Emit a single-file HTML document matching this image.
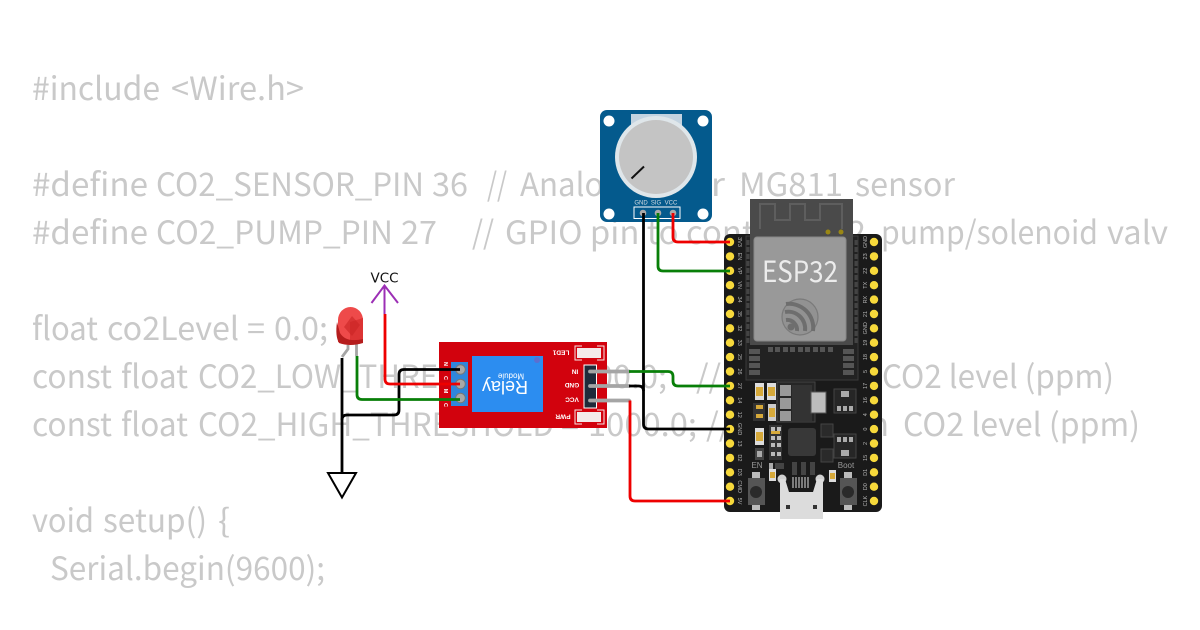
<!DOCTYPE html>
<html><head><meta charset="utf-8"><style>
html,body{margin:0;padding:0;background:#fff;width:1200px;height:630px;overflow:hidden}
svg{display:block}
.c{font-family:"Noto Sans CJK JP","Liberation Sans",sans-serif;font-size:32px;font-weight:400;fill:#c9c9c9}
.s{font-family:"Liberation Sans",sans-serif}
.p{font-family:"Liberation Sans",sans-serif;font-size:6px;fill:#d5dde3;text-anchor:middle}
.w{fill:none;stroke-width:2.8;stroke-linejoin:round}
</style></head><body>
<svg width="1200" height="630" viewBox="0 0 1200 630" xmlns="http://www.w3.org/2000/svg">
<g class="c">
<text x="32" y="100" textLength="128" lengthAdjust="spacingAndGlyphs">#include</text>
<text x="171" y="100" textLength="133" lengthAdjust="spacingAndGlyphs">&lt;Wire.h&gt;</text>

<text x="32" y="196" textLength="116" lengthAdjust="spacingAndGlyphs">#define</text>
<text x="156" y="196" textLength="268" lengthAdjust="spacingAndGlyphs">CO2_SENSOR_PIN</text>
<text x="432" y="196" textLength="36" lengthAdjust="spacingAndGlyphs">36</text>
<text x="487" y="196" textLength="20" lengthAdjust="spacingAndGlyphs">//</text>
<text x="520" y="196" textLength="101" lengthAdjust="spacingAndGlyphs">Analog</text>
<text x="677" y="196" textLength="48" lengthAdjust="spacingAndGlyphs">for</text>
<text x="739" y="196" textLength="104" lengthAdjust="spacingAndGlyphs">MG811</text>
<text x="855" y="196" textLength="100" lengthAdjust="spacingAndGlyphs">sensor</text>

<text x="32" y="244" textLength="116" lengthAdjust="spacingAndGlyphs">#define</text>
<text x="156" y="244" textLength="237" lengthAdjust="spacingAndGlyphs">CO2_PUMP_PIN</text>
<text x="401" y="244" textLength="36" lengthAdjust="spacingAndGlyphs">27</text>
<text x="472" y="244" textLength="22" lengthAdjust="spacingAndGlyphs">//</text>
<text x="505" y="244" textLength="361" lengthAdjust="spacingAndGlyphs">GPIO pin to control CO2</text>
<text x="881" y="244" textLength="217" lengthAdjust="spacingAndGlyphs">pump/solenoid</text>
<text x="1107" y="244" textLength="61" lengthAdjust="spacingAndGlyphs">valv</text>

<text x="32" y="340" textLength="66" lengthAdjust="spacingAndGlyphs">float</text>
<text x="107" y="340" textLength="132" lengthAdjust="spacingAndGlyphs">co2Level</text>
<text x="247" y="340" textLength="18" lengthAdjust="spacingAndGlyphs">=</text>
<text x="274" y="340" textLength="54" lengthAdjust="spacingAndGlyphs">0.0;</text>

<text x="32" y="388" textLength="80" lengthAdjust="spacingAndGlyphs">const</text>
<text x="121" y="388" textLength="67" lengthAdjust="spacingAndGlyphs">float</text>
<text x="198" y="388" textLength="343" lengthAdjust="spacingAndGlyphs">CO2_LOW_THRESHOLD</text>
<text x="549" y="388" textLength="18" lengthAdjust="spacingAndGlyphs">=</text>
<text x="577" y="388" textLength="90" lengthAdjust="spacingAndGlyphs">800.0;</text>
<text x="696" y="388" textLength="174" lengthAdjust="spacingAndGlyphs">// Minimum</text>
<text x="882" y="388" textLength="232" lengthAdjust="spacingAndGlyphs">CO2 level (ppm)</text>

<text x="32" y="436" textLength="80" lengthAdjust="spacingAndGlyphs">const</text>
<text x="121" y="436" textLength="67" lengthAdjust="spacingAndGlyphs">float</text>
<text x="198" y="436" textLength="356" lengthAdjust="spacingAndGlyphs">CO2_HIGH_THRESHOLD</text>
<text x="561" y="436" textLength="18" lengthAdjust="spacingAndGlyphs">=</text>
<text x="588" y="436" textLength="109" lengthAdjust="spacingAndGlyphs">1000.0;</text>
<text x="706" y="436" textLength="183" lengthAdjust="spacingAndGlyphs">// Maximum</text>
<text x="903" y="436" textLength="237" lengthAdjust="spacingAndGlyphs">CO2 level (ppm)</text>

<text x="32" y="532" textLength="62" lengthAdjust="spacingAndGlyphs">void</text>
<text x="103" y="532" textLength="104" lengthAdjust="spacingAndGlyphs">setup()</text>
<text x="218" y="532" textLength="12" lengthAdjust="spacingAndGlyphs">{</text>
<text x="50" y="580" textLength="275" lengthAdjust="spacingAndGlyphs">Serial.begin(9600);</text>
</g>

<!-- ESP32 board -->
<rect x="724" y="234" width="158" height="278" rx="6" fill="#1a1a1a"/>
<rect x="746" y="236" width="112" height="144" fill="#222" stroke="#3a3a3a"/>
<path d="M748 240V345M856 240V345" stroke="#444" stroke-width="3" stroke-dasharray="5 2" fill="none"/>
<rect x="750" y="199" width="103" height="146" fill="#4a4a4a"/>
<path d="M760 229V204H775V220H790V204H805V220H820V204H842V229" fill="none" stroke="#5e5e5e" stroke-width="2"/>
<circle cx="828" cy="232" r="2.5" fill="#9a8714"/><circle cx="841" cy="232" r="2.5" fill="#9a8714"/>
<rect x="754" y="237" width="92" height="104" rx="3" fill="#999" stroke="#888"/>
<text x="762" y="282" font-family="'Noto Sans CJK JP','Liberation Sans',sans-serif" font-size="29" fill="#ececec" textLength="76" lengthAdjust="spacingAndGlyphs">ESP32</text>
<circle cx="800" cy="317" r="18" fill="#929292" stroke="#7a7a7a" stroke-width="1.2"/>
<g fill="none" stroke="#6e6e6e" stroke-width="4"><path d="M786 304A24 24 0 0 1 813 331"/><path d="M785 312A17 17 0 0 1 805 331"/><path d="M786 320A10 10 0 0 1 797 331"/></g><circle cx="791" cy="327" r="3.5" fill="#6e6e6e"/>
<g fill="#555"><rect x="768" y="347" width="5" height="5"/><rect x="775" y="347" width="5" height="5"/><rect x="783" y="347" width="5" height="5"/><rect x="790" y="347" width="5" height="5"/><rect x="798" y="347" width="5" height="5"/><rect x="805" y="347" width="5" height="5"/><rect x="813" y="347" width="5" height="5"/><rect x="820" y="347" width="5" height="5"/><rect x="828" y="347" width="5" height="5"/><rect x="749" y="349" width="11" height="5"/><rect x="749" y="356" width="11" height="5"/><rect x="749" y="363" width="11" height="5"/><rect x="749" y="370" width="11" height="5"/><rect x="843" y="349" width="11" height="5"/><rect x="843" y="356" width="11" height="5"/><rect x="843" y="363" width="11" height="5"/><rect x="843" y="370" width="11" height="5"/></g>
<!-- SMD parts -->
<g>
<rect x="755" y="383" width="9" height="17" fill="#ddd"/><rect x="756" y="387" width="7" height="9" fill="#d6a93a"/>
<rect x="767" y="383" width="9" height="17" fill="#ddd"/><rect x="768" y="387" width="7" height="9" fill="#d6a93a"/>
<rect x="753" y="403" width="12" height="18" fill="#333"/><rect x="756" y="405" width="7" height="4" fill="#d6a93a"/><rect x="756" y="414" width="7" height="4" fill="#d6a93a"/>
<rect x="768" y="404" width="8" height="17" fill="#ccc"/><rect x="769" y="408" width="6" height="9" fill="#d6a93a"/>
<rect x="777" y="382" width="38" height="40" fill="#262626" stroke="#444"/>
<rect x="780" y="385" width="11" height="11" fill="#999"/><rect x="780" y="398" width="11" height="11" fill="#999"/><rect x="780" y="411" width="11" height="10" fill="#999"/>
<rect x="792" y="385" width="20" height="36" fill="#333"/>
<rect x="811" y="392" width="15" height="21" fill="#bdbdbd" stroke="#555"/>
<rect x="834" y="389" width="22" height="24" fill="#262626" stroke="#444"/>
<rect x="841" y="391" width="8" height="6" fill="#aaa"/><rect x="837" y="406" width="4" height="5" fill="#aaa"/><rect x="843" y="406" width="4" height="5" fill="#aaa"/><rect x="849" y="406" width="4" height="5" fill="#aaa"/>
<rect x="834" y="434" width="22" height="24" fill="#262626" stroke="#444"/>
<rect x="841" y="450" width="8" height="6" fill="#aaa"/><rect x="837" y="437" width="4" height="5" fill="#aaa"/><rect x="843" y="437" width="4" height="5" fill="#aaa"/><rect x="849" y="437" width="4" height="5" fill="#aaa"/>
<rect x="821" y="424" width="12" height="13" fill="#2a2a2a" stroke="#444"/><rect x="821" y="449" width="12" height="13" fill="#2a2a2a" stroke="#444"/>
<rect x="755" y="428" width="9" height="17" fill="#ddd"/><rect x="756" y="432" width="7" height="9" fill="#d6a93a"/>
<rect x="755" y="448" width="9" height="12" fill="#444"/><rect x="757" y="451" width="5" height="6" fill="#aaa"/>
<rect x="769" y="425" width="13" height="35" fill="#333"/><g fill="#bbb"><rect x="771" y="427" width="4" height="4"/><rect x="777" y="427" width="4" height="4"/><rect x="771" y="436" width="4" height="4"/><rect x="777" y="436" width="4" height="4"/><rect x="771" y="443" width="4" height="4"/><rect x="777" y="443" width="4" height="4"/><rect x="771" y="452" width="4" height="4"/><rect x="777" y="452" width="4" height="4"/></g>
<rect x="771" y="431" width="9" height="3" fill="#d6a93a"/>
<rect x="788" y="428" width="28" height="28" rx="3" fill="#383838"/>
<rect x="769" y="463" width="4" height="6" fill="#aaa"/><rect x="775" y="463" width="9" height="6" fill="#444"/>
<rect x="792" y="462" width="5" height="13" fill="#444"/><rect x="801" y="462" width="5" height="13" fill="#444"/><rect x="810" y="462" width="5" height="13" fill="#444"/>
<rect x="769" y="469" width="7" height="12" fill="#ddd"/><rect x="770" y="472" width="5" height="6" fill="#d6a93a"/>
<rect x="829" y="470" width="7" height="12" fill="#ddd"/><rect x="830" y="473" width="5" height="6" fill="#d6a93a"/>
</g>
<text x="757" y="468" text-anchor="middle" font-family="Liberation Sans,sans-serif" font-size="8" fill="#9a9a9a">EN</text>
<text x="846" y="468" text-anchor="middle" font-family="Liberation Sans,sans-serif" font-size="8" fill="#9a9a9a">Boot</text>
<!-- buttons -->
<rect x="752" y="472" width="8" height="8" fill="#bbb"/><rect x="752" y="504" width="8" height="6" fill="#bbb"/>
<rect x="748" y="478" width="17" height="27" fill="#555"/><circle cx="756" cy="492" r="6" fill="#2a2a2a"/>
<rect x="844" y="472" width="8" height="8" fill="#bbb"/><rect x="844" y="504" width="8" height="6" fill="#bbb"/>
<rect x="840" y="478" width="17" height="27" fill="#555"/><circle cx="848" cy="492" r="6" fill="#2a2a2a"/>
<!-- USB -->
<circle cx="782" cy="479" r="4.5" fill="#d0d0d0"/><circle cx="820" cy="479" r="4.5" fill="#d0d0d0"/>
<path d="M780 479H785L789 492H813L817 479H823V519H780Z" fill="#dcdcdc"/>
<g stroke="#ddd" stroke-width="1"><path d="M793 477V488M796 477V488M799 477V488M802 477V488M805 477V488M808 477V488"/></g>
<rect x="786" y="505" width="4" height="4" fill="#333"/><rect x="813" y="505" width="4" height="4" fill="#333"/>
<!-- pins -->
<g fill="#f7d93b" id="pins">
<circle cx="730" cy="242" r="4.2"/><circle cx="730" cy="256.4" r="4.2"/><circle cx="730" cy="270.8" r="4.2"/><circle cx="730" cy="285.2" r="4.2"/><circle cx="730" cy="299.6" r="4.2"/><circle cx="730" cy="314" r="4.2"/><circle cx="730" cy="328.3" r="4.2"/><circle cx="730" cy="342.7" r="4.2"/><circle cx="730" cy="357.1" r="4.2"/><circle cx="730" cy="371.5" r="4.2"/><circle cx="730" cy="385.9" r="4.2"/><circle cx="730" cy="400.3" r="4.2"/><circle cx="730" cy="414.7" r="4.2"/><circle cx="730" cy="429.1" r="4.2"/><circle cx="730" cy="443.5" r="4.2"/><circle cx="730" cy="457.9" r="4.2"/><circle cx="730" cy="472.3" r="4.2"/><circle cx="730" cy="486.7" r="4.2"/><circle cx="730" cy="501" r="4.2"/>
<circle cx="874" cy="242" r="4.2"/><circle cx="874" cy="256.4" r="4.2"/><circle cx="874" cy="270.8" r="4.2"/><circle cx="874" cy="285.2" r="4.2"/><circle cx="874" cy="299.6" r="4.2"/><circle cx="874" cy="314" r="4.2"/><circle cx="874" cy="328.3" r="4.2"/><circle cx="874" cy="342.7" r="4.2"/><circle cx="874" cy="357.1" r="4.2"/><circle cx="874" cy="371.5" r="4.2"/><circle cx="874" cy="385.9" r="4.2"/><circle cx="874" cy="400.3" r="4.2"/><circle cx="874" cy="414.7" r="4.2"/><circle cx="874" cy="429.1" r="4.2"/><circle cx="874" cy="443.5" r="4.2"/><circle cx="874" cy="457.9" r="4.2"/><circle cx="874" cy="472.3" r="4.2"/><circle cx="874" cy="486.7" r="4.2"/><circle cx="874" cy="501" r="4.2"/>
</g>
<g class="s" font-size="5.5" fill="#b5b5b5" text-anchor="middle">
<text transform="translate(738,242) rotate(90)">3V3</text><text transform="translate(738,256.4) rotate(90)">EN</text><text transform="translate(738,270.8) rotate(90)">VP</text><text transform="translate(738,285.2) rotate(90)">VN</text><text transform="translate(738,299.6) rotate(90)">34</text><text transform="translate(738,314) rotate(90)">35</text><text transform="translate(738,328.3) rotate(90)">32</text><text transform="translate(738,342.7) rotate(90)">33</text><text transform="translate(738,357.1) rotate(90)">25</text><text transform="translate(738,371.5) rotate(90)">26</text><text transform="translate(738,385.9) rotate(90)">27</text><text transform="translate(738,400.3) rotate(90)">14</text><text transform="translate(738,414.7) rotate(90)">12</text><text transform="translate(738,429.1) rotate(90)">GND</text><text transform="translate(738,443.5) rotate(90)">13</text><text transform="translate(738,457.9) rotate(90)">D2</text><text transform="translate(738,472.3) rotate(90)">D3</text><text transform="translate(738,486.7) rotate(90)">CMD</text><text transform="translate(738,501) rotate(90)">5V</text>
<text transform="translate(867,242) rotate(-90)">GND</text><text transform="translate(867,256.4) rotate(-90)">23</text><text transform="translate(867,270.8) rotate(-90)">22</text><text transform="translate(867,285.2) rotate(-90)">TX</text><text transform="translate(867,299.6) rotate(-90)">RX</text><text transform="translate(867,314) rotate(-90)">21</text><text transform="translate(867,328.3) rotate(-90)">GND</text><text transform="translate(867,342.7) rotate(-90)">19</text><text transform="translate(867,357.1) rotate(-90)">18</text><text transform="translate(867,371.5) rotate(-90)">5</text><text transform="translate(867,385.9) rotate(-90)">17</text><text transform="translate(867,400.3) rotate(-90)">16</text><text transform="translate(867,414.7) rotate(-90)">4</text><text transform="translate(867,429.1) rotate(-90)">0</text><text transform="translate(867,443.5) rotate(-90)">2</text><text transform="translate(867,457.9) rotate(-90)">15</text><text transform="translate(867,472.3) rotate(-90)">D1</text><text transform="translate(867,486.7) rotate(-90)">D0</text><text transform="translate(867,501) rotate(-90)">CLK</text>
</g>

<!-- Potentiometer -->
<rect x="600" y="110" width="112" height="112" rx="7" fill="#045a8d"/>
<circle cx="609" cy="121" r="5.5" fill="#fff"/><circle cx="703" cy="121" r="5.5" fill="#fff"/><circle cx="609" cy="214" r="5.5" fill="#fff"/><circle cx="703" cy="214" r="5.5" fill="#fff"/>
<rect x="631" y="114" width="51" height="12" fill="#c3d3e0"/>
<circle cx="656" cy="157" r="41" fill="#dfe6ea"/><circle cx="656" cy="157" r="37" fill="#c4c4c4"/>
<line x1="631.5" y1="178.5" x2="644" y2="166.5" stroke="#111" stroke-width="2"/>
<rect x="634" y="207" width="46" height="11.5" fill="none" stroke="#fff" stroke-width="1"/>
<circle cx="643" cy="213" r="3.3" fill="#aaa"/><circle cx="658" cy="213" r="3.3" fill="#aaa"/><circle cx="673" cy="213" r="3.3" fill="#aaa"/>
<text class="p" x="641" y="204.5">GND</text><text class="p" x="656" y="204.5">SIG</text><text class="p" x="671" y="204.5">VCC</text>

<!-- Relay -->
<rect x="439" y="342" width="168" height="86" fill="#d2020d"/>
<rect x="451" y="362" width="17" height="44" fill="#2f86dc"/>
<rect x="472" y="356" width="71" height="56" fill="#2c8df0"/>
<circle cx="537" cy="360" r="3" fill="#5b6fd0"/>
<g text-anchor="middle" fill="#fff" font-family="Liberation Sans,sans-serif">
<text transform="translate(505,381) rotate(180)" font-size="18">Relay</text>
<text transform="translate(511,373.5) rotate(180)" font-size="8">Module</text>
</g>
<g class="s" font-size="6.5" fill="#fff" font-weight="bold" text-anchor="middle">
<text transform="translate(561,350.5) rotate(180)">LED1</text>
<text transform="translate(563,414.5) rotate(180)">PWR</text>
<text transform="translate(575,369.5) rotate(180)">IN</text>
<text transform="translate(572,383) rotate(180)">GND</text>
<text transform="translate(572,397.5) rotate(180)">VCC</text>
</g>
<rect x="577" y="348" width="24" height="10" fill="#f4eaea"/><path d="M582 346H575V360H582M597 346H604V360H597" fill="none" stroke="#f5e5e5" stroke-width="1"/>
<rect x="577" y="412" width="24" height="10" fill="#f4eaea"/><path d="M582 410H575V424H582M597 410H604V424H597" fill="none" stroke="#f5e5e5" stroke-width="1"/>
<rect x="584" y="365" width="12.5" height="43" fill="#1f2a3a" stroke="#fff" stroke-width="1"/>
<g class="s" font-size="5.5" fill="#fff" font-weight="bold" text-anchor="middle">
<text transform="translate(444,364) rotate(90)">N</text><text transform="translate(444,378) rotate(90)">C</text><text transform="translate(444,391) rotate(90)">M</text><text transform="translate(444,405) rotate(90)">C</text>
</g>
<g fill="#a8a8a8" stroke="#777" stroke-width="1"><circle cx="460.5" cy="369.5" r="4.8"/><circle cx="460.5" cy="384" r="4.8"/><circle cx="460.5" cy="398" r="4.8"/></g>
<g stroke="#a5a5a5" stroke-width="3.8" stroke-linecap="round"><line x1="590" y1="371.5" x2="629" y2="371.5"/><line x1="590" y1="386" x2="629" y2="386"/><line x1="590" y1="400.5" x2="629" y2="400.5"/></g>

<!-- LED -->
<path d="M356.5 343V356" stroke="#a5a5a5" stroke-width="2.8" fill="none"/>
<path d="M348 345V349L342 357" stroke="#a5a5a5" stroke-width="2.8" fill="none"/>
<path d="M338 327V320A12.5 13 0 0 1 363 320V342H338Z" fill="#ee4a4a"/>
<path d="M350 322L363 318V342L350 340Z" fill="#dc3434"/>
<path d="M344 327L352 316L360 325L352 336Z" fill="#c92525" opacity=".6"/>
<path d="M337 322Q335 336 339 343Q350 347 363 343L363 339Q346 343 340 333Z" fill="#b51d1d"/>

<!-- VCC and GND -->
<text x="384.5" y="282.5" text-anchor="middle" font-family="DejaVu Sans,sans-serif" font-size="13.5" fill="#111">VCC</text>
<path d="M371.5 303L384.5 285.5L398 303M384.5 285.5V314" fill="none" stroke="#9c2fb5" stroke-width="2"/>
<path d="M328 473H356L342 497.5Z" fill="#fff" stroke="#000" stroke-width="2"/>

<!-- wires -->
<path class="w" stroke="#000" d="M342 358V473"/>
<path class="w" stroke="#000" d="M460 369.5H404Q399 369.5 399 374.5V410Q399 415 394 415H347Q342 415 342 420"/>
<path class="w" stroke="#ee0000" d="M460 384H390Q385 384 385 379V314"/>
<path class="w" stroke="#087f08" d="M460 399.5H362Q357 399.5 357 394.5V356"/>
<path class="w" stroke="#000" d="M643.5 213V424Q643.5 429 648.5 429H730"/>
<path class="w" stroke="#ee0000" d="M673 213V237Q673 242 678 242H730"/>
<path class="w" stroke="#087f08" d="M658 213V266Q658 271 663 271H730"/>
<path class="w" stroke="#087f08" d="M629 371.5H668Q673 371.5 673 376.5V381Q673 386 678 386H730"/>
<path class="w" stroke="#000" d="M629 386H638.5Q643.5 386 643.5 391"/>
<path class="w" stroke="#ee0000" d="M630 400.5V496Q630 501 635 501H730"/>
</svg>
</body></html>
